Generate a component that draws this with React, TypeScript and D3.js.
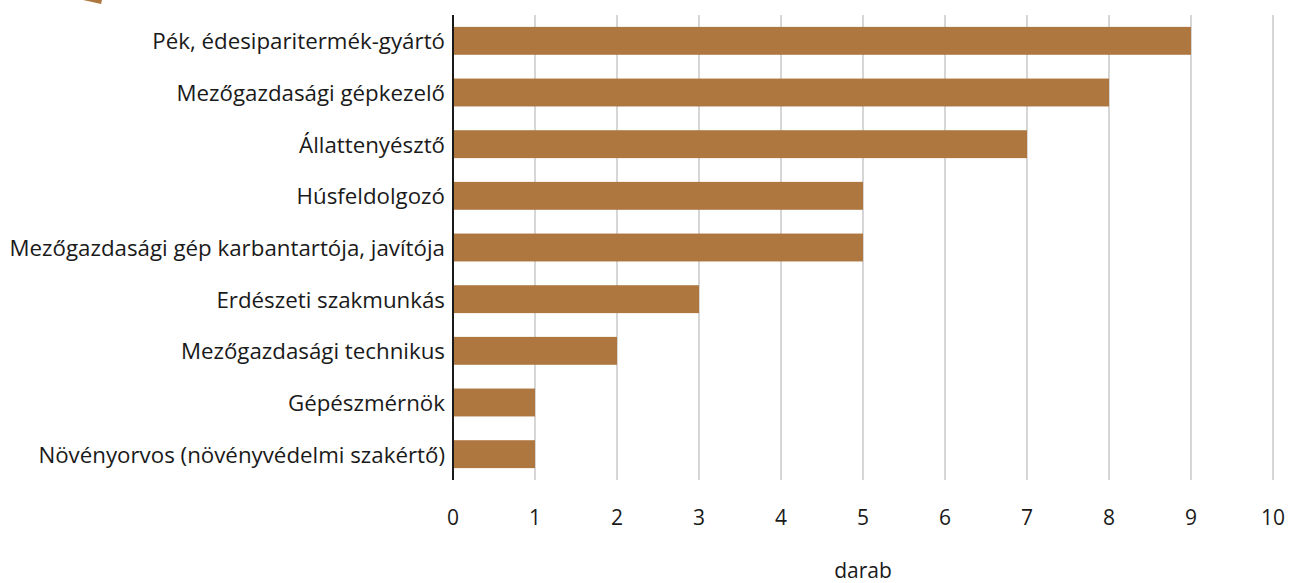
import React from "react";
import * as d3 from "d3";

const categories = [
  "Pék, édesiparitermék-gyártó",
  "Mezőgazdasági gépkezelő",
  "Állattenyésztő",
  "Húsfeldolgozó",
  "Mezőgazdasági gép karbantartója, javítója",
  "Erdészeti szakmunkás",
  "Mezőgazdasági technikus",
  "Gépészmérnök",
  "Növényorvos (növényvédelmi szakértő)",
];
const values = [9, 8, 7, 5, 5, 3, 2, 1, 1];
const xTicks = [0, 1, 2, 3, 4, 5, 6, 7, 8, 9, 10];
const axisTitle = "darab";

const W = 1298;
const H = 583;
const left = 453;
const right = 1273;
const top = 15;
const bottom = 480;
const barColor = "#AD773F";
const font = "'Open Sans', 'Noto Sans', sans-serif";

export default function App() {
  const x = d3.scaleLinear().domain([0, 10]).range([left, right]);
  const y = d3
    .scaleBand<string>()
    .domain(categories)
    .range([top, bottom])
    .paddingInner(0.46)
    .paddingOuter(0.23);

  return (
    <svg
      width={W}
      height={H}
      style={{ position: "absolute", left: 0, top: 0, background: "#fff" }}
    >
      <polygon points="83,0 102,0 101,4 90,1.5" fill={barColor} />
      {xTicks.slice(1).map((t) => (
        <line
          key={t}
          x1={x(t)}
          x2={x(t)}
          y1={top}
          y2={bottom}
          stroke="#d6d6d6"
          strokeWidth={2}
        />
      ))}
      {categories.map((c, i) => (
        <rect
          key={c}
          x={x(0)}
          y={y(c)}
          width={x(values[i]) - x(0)}
          height={y.bandwidth()}
          fill={barColor}
        />
      ))}
      <line x1={left} x2={left} y1={top} y2={bottom} stroke="#1a1a1a" strokeWidth={2} />
      {categories.map((c) => (
        <text
          key={c}
          x={445}
          y={(y(c) as number) + y.bandwidth() / 2}
          textAnchor="end"
          dominantBaseline="central"
          fontFamily={font}
          fontSize={22.3}
          fill="#1a1a1a"
        >
          {c}
        </text>
      ))}
      {xTicks.map((t) => (
        <text
          key={t}
          x={x(t)}
          y={517}
          textAnchor="middle"
          dominantBaseline="central"
          fontFamily={font}
          fontSize={21}
          fill="#1a1a1a"
        >
          {t}
        </text>
      ))}
      <text
        x={(left + right) / 2}
        y={570}
        textAnchor="middle"
        dominantBaseline="central"
        fontFamily={font}
        fontSize={21}
        fill="#1a1a1a"
      >
        {axisTitle}
      </text>
    </svg>
  );
}
